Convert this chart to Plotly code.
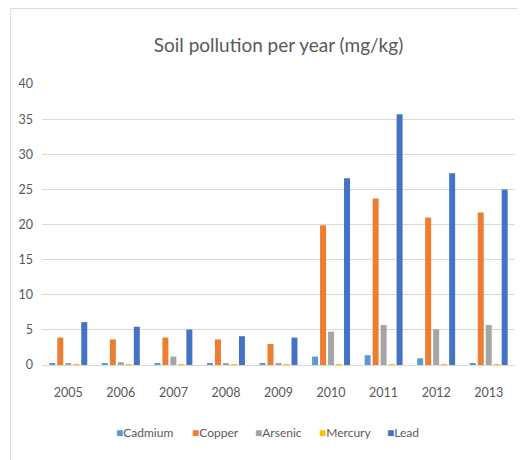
import plotly.graph_objects as go

years = ["2005", "2006", "2007", "2008", "2009", "2010", "2011", "2012", "2013"]
cadmium = [0.2, 0.2, 0.2, 0.2, 0.2, 1.2, 1.4, 0.95, 0.2]
copper = [3.9, 3.65, 3.9, 3.65, 3.0, 19.9, 23.7, 21.0, 21.7]
arsenic = [0.2, 0.4, 1.2, 0.2, 0.2, 4.75, 5.7, 5.1, 5.7]
mercury = [0.1, 0.1, 0.1, 0.1, 0.1, 0.1, 0.1, 0.1, 0.1]
lead = [6.1, 5.45, 5.05, 4.1, 3.9, 26.6, 35.7, 27.3, 25.0]

series = [("Cadmium", cadmium, "#5B9BD5"), ("Copper", copper, "#ED7D31"),
          ("Arsenic", arsenic, "#A5A5A5"), ("Mercury", mercury, "#FFC000"),
          ("Lead", lead, "#4472C4")]

fig = go.Figure()
for name, vals, col in series:
    fig.add_trace(go.Bar(x=years, y=vals, name=name, marker_color=col,
                         marker_line_width=0, showlegend=False))

# page body has an 8px margin; figure is sized/positioned to compensate
W, H = 517, 452
PL, PR, PT, PB = 40, 515, 84, 365  # plot area in page pixels
pw, ph = PR - PL, PB - PT

# compact legend (Excel style): one annotation per series, left edges in page px
legend_x = [113, 190, 253, 317, 385]
annotations = [
    dict(text=f'<span style="color:{col}">■</span>{name}', xref="paper", yref="paper",
         x=(lx - PL) / pw, y=(PB - 432) / ph, xanchor="left", yanchor="middle",
         showarrow=False, borderpad=0, font=dict(size=12, color="#595959"))
    for (name, _, col), lx in zip(series, legend_x)
]

fig.update_layout(
    width=W, height=H,
    margin=dict(l=PL - 8, r=W + 8 - PR, t=PT - 8, b=H + 8 - PB),
    paper_bgcolor="white", plot_bgcolor="white",
    font=dict(family="Lato, sans-serif", color="#595959", size=12),
    title=dict(text="Soil pollution per year (mg/kg)", x=0.5, xref="paper", xanchor="center",
               y=1 - 37/H, yanchor="middle",
               font=dict(family="Lato, sans-serif", size=19, color="#595959")),
    barmode="group", bargap=0.24, bargroupgap=0.25,
    xaxis=dict(showgrid=False, showline=True, linecolor="#d9d9d9", ticks="",
               tickfont=dict(size=12.5), ticklabelstandoff=16),
    yaxis=dict(range=[0, 40], dtick=5, showgrid=True, gridcolor="#d9d9d9", zeroline=False,
               showline=False, ticks="", tickfont=dict(size=12.5), ticklabelstandoff=8),
    annotations=annotations,
    shapes=[
        dict(type="line", xref="paper", yref="paper",
             x0=(8.5 - PL) / pw, x1=(8.5 - PL) / pw, y0=(PB - 460) / ph, y1=(PB - 8.5) / ph,
             line=dict(color="#d9d9d9", width=1)),
        dict(type="line", xref="paper", yref="paper",
             x0=(8.5 - PL) / pw, x1=(518 - PL) / pw, y0=(PB - 8.5) / ph, y1=(PB - 8.5) / ph,
             line=dict(color="#d9d9d9", width=1)),
    ],
)

fig.write_html("out.html")
